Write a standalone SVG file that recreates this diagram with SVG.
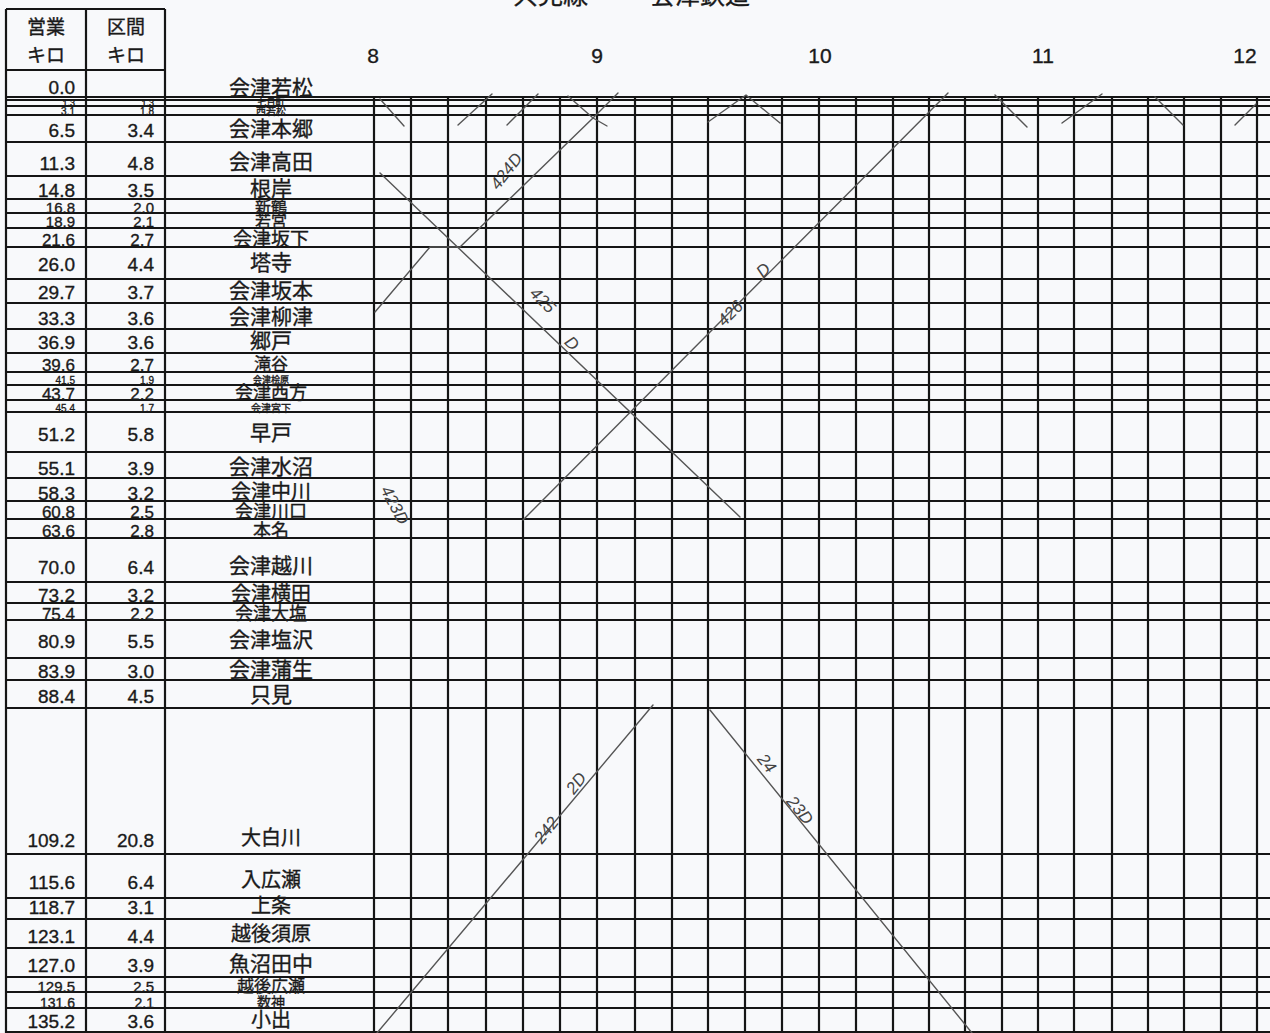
<svg xmlns="http://www.w3.org/2000/svg" width="1270" height="1033" viewBox="0 0 1270 1033">
<style>
.bg{fill:#f8f9fb}
.g{stroke:#151515;stroke-width:2.2;fill:none}
.t{font-family:"Liberation Sans","Noto Sans CJK JP",sans-serif;fill:#1a1a1a;stroke:#1a1a1a;stroke-width:0.35}
.n{text-anchor:end}
.c{text-anchor:middle}
.tr{stroke:#555;stroke-width:1.4;fill:none;stroke-linecap:round;stroke-linejoin:round}
.hw{font-family:"Liberation Sans",sans-serif;font-size:17px;fill:#444;text-anchor:middle;font-style:italic}
</style>
<rect class="bg" x="0" y="0" width="1270" height="1033"/>
<g id="title">
<text class="t" x="513" y="4" font-size="25">只見線</text>
<text class="t" x="650" y="4" font-size="25">会津鉄道</text>
</g>
<g id="hours" class="t c" font-size="21">
<text x="373" y="63">8</text>
<text x="597" y="63">9</text>
<text x="820" y="63">10</text>
<text x="1043" y="63">11</text>
<text x="1245" y="63">12</text>
</g>
<g id="header">
<path class="g" d="M6 9H165M6 70H165M6 9V1033M86 9V1033M165 9V1033"/>
<text class="t c" x="46" y="34" font-size="19">営業</text>
<text class="t c" x="46" y="62" font-size="19">キロ</text>
<text class="t c" x="126" y="34" font-size="19">区間</text>
<text class="t c" x="126" y="62" font-size="19">キロ</text>
</g>
<g id="grid" class="g">
<path d="M6 97H1270M6 100H1270M6 106H1270M6 115H1270M6 142H1270M6 176H1270M6 199H1270M6 213H1270M6 228H1270M6 247H1270M6 279H1270M6 303H1270M6 329H1270M6 353H1270M6 372H1270M6 385H1270M6 400H1270M6 412H1270M6 452H1270M6 478H1270M6 501H1270M6 519H1270M6 538H1270M6 582H1270M6 603H1270M6 620H1270M6 658H1270M6 680H1270M6 708H1270M6 854H1270M6 898H1270M6 919H1270M6 948H1270M6 977H1270M6 992H1270M6 1008H1270M6 1032H1270"/>
<path d="M374 97V1033M411 97V1033M448 97V1033M486 97V1033M523 97V1033M560 97V1033M597 97V1033M635 97V1033M672 97V1033M708 97V1033M745 97V1033M782 97V1033M819 97V1033M856 97V1033M893 97V1033M929 97V1033M965 97V1033M1002 97V1033M1038 97V1033M1074 97V1033M1112 97V1033M1148 97V1033M1184 97V1033M1221 97V1033M1257 97V1033"/>
</g>
<g id="stations" class="t">
<g id="st01"><text class="n" x="75" y="94" font-size="19">0.0</text><text class="c" x="271" y="95" font-size="21">会津若松</text></g>
<g id="st02"><text class="n" x="75" y="106" font-size="9">1.3</text><text class="n" x="154" y="106" font-size="9">1.3</text><text class="c" x="271" y="106" font-size="9">七日町</text></g>
<g id="st03"><text class="n" x="75" y="115" font-size="10">3.1</text><text class="n" x="154" y="115" font-size="10">1.8</text><text class="c" x="271" y="115" font-size="10">西若松</text></g>
<g id="st04"><text class="n" x="75" y="137" font-size="19">6.5</text><text class="n" x="154" y="137" font-size="19">3.4</text><text class="c" x="271" y="136" font-size="21">会津本郷</text></g>
<g id="st05"><text class="n" x="75" y="170" font-size="19">11.3</text><text class="n" x="154" y="170" font-size="19">4.8</text><text class="c" x="271" y="169" font-size="21">会津高田</text></g>
<g id="st06"><text class="n" x="75" y="197" font-size="19">14.8</text><text class="n" x="154" y="197" font-size="19">3.5</text><text class="c" x="271" y="196" font-size="21">根岸</text></g>
<g id="st07"><text class="n" x="75" y="213" font-size="15">16.8</text><text class="n" x="154" y="213" font-size="15">2.0</text><text class="c" x="271" y="213" font-size="16">新鶴</text></g>
<g id="st08"><text class="n" x="75" y="227" font-size="15">18.9</text><text class="n" x="154" y="227" font-size="15">2.1</text><text class="c" x="271" y="227" font-size="16">若宮</text></g>
<g id="st09"><text class="n" x="75" y="246" font-size="17">21.6</text><text class="n" x="154" y="246" font-size="17">2.7</text><text class="c" x="271" y="246" font-size="19">会津坂下</text></g>
<g id="st10"><text class="n" x="75" y="271" font-size="19">26.0</text><text class="n" x="154" y="271" font-size="19">4.4</text><text class="c" x="271" y="270" font-size="21">塔寺</text></g>
<g id="st11"><text class="n" x="75" y="299" font-size="19">29.7</text><text class="n" x="154" y="299" font-size="19">3.7</text><text class="c" x="271" y="298" font-size="21">会津坂本</text></g>
<g id="st12"><text class="n" x="75" y="325" font-size="19">33.3</text><text class="n" x="154" y="325" font-size="19">3.6</text><text class="c" x="271" y="324" font-size="21">会津柳津</text></g>
<g id="st13"><text class="n" x="75" y="349" font-size="19">36.9</text><text class="n" x="154" y="349" font-size="19">3.6</text><text class="c" x="271" y="348" font-size="21">郷戸</text></g>
<g id="st14"><text class="n" x="75" y="371" font-size="17">39.6</text><text class="n" x="154" y="371" font-size="17">2.7</text><text class="c" x="271" y="370" font-size="17">滝谷</text></g>
<g id="st15"><text class="n" x="75" y="384" font-size="10">41.5</text><text class="n" x="154" y="384" font-size="10">1.9</text><text class="c" x="271" y="383" font-size="9">会津桧原</text></g>
<g id="st16"><text class="n" x="75" y="400" font-size="17">43.7</text><text class="n" x="154" y="400" font-size="17">2.2</text><text class="c" x="271" y="399" font-size="18">会津西方</text></g>
<g id="st17"><text class="n" x="75" y="412" font-size="10">45.4</text><text class="n" x="154" y="412" font-size="10">1.7</text><text class="c" x="271" y="412" font-size="10">会津宮下</text></g>
<g id="st18"><text class="n" x="75" y="441" font-size="19">51.2</text><text class="n" x="154" y="441" font-size="19">5.8</text><text class="c" x="271" y="440" font-size="21">早戸</text></g>
<g id="st19"><text class="n" x="75" y="475" font-size="19">55.1</text><text class="n" x="154" y="475" font-size="19">3.9</text><text class="c" x="271" y="474" font-size="21">会津水沼</text></g>
<g id="st20"><text class="n" x="75" y="500" font-size="19">58.3</text><text class="n" x="154" y="500" font-size="19">3.2</text><text class="c" x="271" y="499" font-size="20">会津中川</text></g>
<g id="st21"><text class="n" x="75" y="518" font-size="17">60.8</text><text class="n" x="154" y="518" font-size="17">2.5</text><text class="c" x="271" y="518" font-size="18">会津川口</text></g>
<g id="st22"><text class="n" x="75" y="537" font-size="17">63.6</text><text class="n" x="154" y="537" font-size="17">2.8</text><text class="c" x="271" y="537" font-size="18">本名</text></g>
<g id="st23"><text class="n" x="75" y="574" font-size="19">70.0</text><text class="n" x="154" y="574" font-size="19">6.4</text><text class="c" x="271" y="573" font-size="21">会津越川</text></g>
<g id="st24"><text class="n" x="75" y="602" font-size="19">73.2</text><text class="n" x="154" y="602" font-size="19">3.2</text><text class="c" x="271" y="601" font-size="20">会津横田</text></g>
<g id="st25"><text class="n" x="75" y="620" font-size="17">75.4</text><text class="n" x="154" y="620" font-size="17">2.2</text><text class="c" x="271" y="620" font-size="18">会津大塩</text></g>
<g id="st26"><text class="n" x="75" y="648" font-size="19">80.9</text><text class="n" x="154" y="648" font-size="19">5.5</text><text class="c" x="271" y="647" font-size="21">会津塩沢</text></g>
<g id="st27"><text class="n" x="75" y="678" font-size="19">83.9</text><text class="n" x="154" y="678" font-size="19">3.0</text><text class="c" x="271" y="677" font-size="21">会津蒲生</text></g>
<g id="st28"><text class="n" x="75" y="703" font-size="19">88.4</text><text class="n" x="154" y="703" font-size="19">4.5</text><text class="c" x="271" y="702" font-size="21">只見</text></g>
<g id="st29"><text class="n" x="75" y="847" font-size="19">109.2</text><text class="n" x="154" y="847" font-size="19">20.8</text><text class="c" x="271" y="845" font-size="20">大白川</text></g>
<g id="st30"><text class="n" x="75" y="889" font-size="19">115.6</text><text class="n" x="154" y="889" font-size="19">6.4</text><text class="c" x="271" y="887" font-size="20">入広瀬</text></g>
<g id="st31"><text class="n" x="75" y="914" font-size="19">118.7</text><text class="n" x="154" y="914" font-size="19">3.1</text><text class="c" x="271" y="913" font-size="20">上条</text></g>
<g id="st32"><text class="n" x="75" y="943" font-size="19">123.1</text><text class="n" x="154" y="943" font-size="19">4.4</text><text class="c" x="271" y="941" font-size="20">越後須原</text></g>
<g id="st33"><text class="n" x="75" y="972" font-size="19">127.0</text><text class="n" x="154" y="972" font-size="19">3.9</text><text class="c" x="271" y="971" font-size="21">魚沼田中</text></g>
<g id="st34"><text class="n" x="75" y="992" font-size="15">129.5</text><text class="n" x="154" y="992" font-size="15">2.5</text><text class="c" x="271" y="992" font-size="17">越後広瀬</text></g>
<g id="st35"><text class="n" x="75" y="1008" font-size="14">131.6</text><text class="n" x="154" y="1008" font-size="14">2.1</text><text class="c" x="271" y="1007" font-size="14">数神</text></g>
<g id="st36"><text class="n" x="75" y="1028" font-size="19">135.2</text><text class="n" x="154" y="1028" font-size="19">3.6</text><text class="c" x="271" y="1027" font-size="20">小出</text></g>
</g>
<g id="trains" class="tr">
<path d="M380 99L404 126"/>
<path d="M458 125L492 94"/>
<path d="M507 125L538 94"/>
<path d="M568 96L593 118L618 93"/>
<path d="M593 118L607 126"/>
<path d="M375 312L430 247L460 247L593 118"/>
<path d="M380 173L740 517"/>
<path d="M708 122L746 95L780 123"/>
<path d="M523 520L948 93"/>
<path d="M995 95L1027 127"/>
<path d="M1062 123L1102 94"/>
<path d="M1155 97L1183 125"/>
<path d="M1235 125L1256 104"/>
<path d="M653 705L377 1033"/>
<path d="M710 710L972 1033"/>
</g>
<g id="labels">
<text class="hw" x="506" y="177" transform="rotate(-52 506 171)">424D</text>
<text class="hw" x="543" y="306" transform="rotate(45 543 300)">425</text>
<text class="hw" x="572" y="349" transform="rotate(45 572 343)">D</text>
<text class="hw" x="730" y="319" transform="rotate(-45 730 313)">426</text>
<text class="hw" x="763" y="276" transform="rotate(-45 763 270)">D</text>
<text class="hw" x="395" y="511" transform="rotate(62 395 505)">423D</text>
<text class="hw" x="546" y="836" transform="rotate(-52 546 830)">242</text>
<text class="hw" x="576" y="789" transform="rotate(-52 576 783)">2D</text>
<text class="hw" x="767" y="769" transform="rotate(51 767 763)">24</text>
<text class="hw" x="800" y="816" transform="rotate(51 800 810)">23D</text>
</g>
</svg>
